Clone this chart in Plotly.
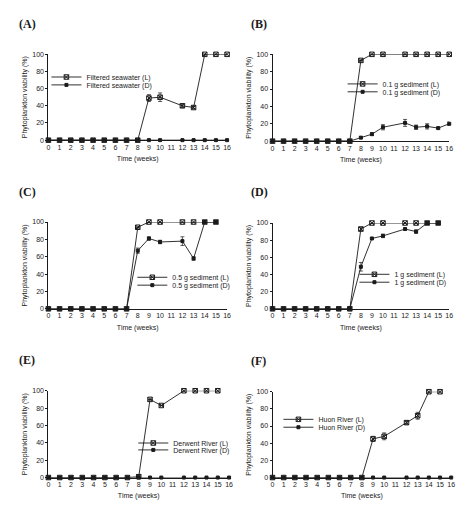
import plotly.graph_objects as go

W, H = 471, 520

# ---------------- data ----------------
weeks_16 = [0, 1, 2, 3, 4, 5, 6, 7, 8, 9, 10, 12, 13, 14, 15, 16]
weeks_15 = [0, 1, 2, 3, 4, 5, 6, 7, 8, 9, 10, 12, 13, 14, 15]

# (A) Filtered seawater
A_L_x = weeks_16
A_L = [0, 0, 0, 0, 0, 0, 0, 0, 0, 49, 50, 40, 38, 100, 100, 100]
A_L_err = [0, 0, 0, 0, 0, 0, 0, 0, 0, 4, 5, 2, 1.5, 0, 0, 0]
A_D_x = weeks_16
A_D = [0] * 16
A_D_err = [0] * 16

# (B) 0.1 g sediment
B_L_x = weeks_16
B_L = [0, 0, 0, 0, 0, 0, 0, 0, 93, 100, 100, 100, 100, 100, 100, 100]
B_L_err = [0] * 16
B_D_x = weeks_16
B_D = [0, 0, 0, 0, 0, 0, 0, 0, 4, 8, 16, 21, 16, 17, 15, 20]
B_D_err = [0, 0, 0, 0, 0, 0, 0, 0, 1, 1.5, 3, 4, 2.5, 3, 1, 2]

# (C) 0.5 g sediment
C_L_x = weeks_15
C_L = [0, 0, 0, 0, 0, 0, 0, 0, 94, 100, 100, 100, 100, 100, 100]
C_L_err = [0] * 15
C_D_x = weeks_15
C_D = [0, 0, 0, 0, 0, 0, 0, 0, 67, 81, 77, 78, 58, 100, 100]
C_D_err = [0, 0, 0, 0, 0, 0, 0, 0, 3, 2, 2, 5, 2, 0, 0]

# (D) 1 g sediment
D_L_x = weeks_15
D_L = [0, 0, 0, 0, 0, 0, 0, 0, 93, 100, 100, 100, 100, 100, 100]
D_L_err = [0, 0, 0, 0, 0, 0, 0, 0, 2, 0, 0, 0, 0, 0, 0]
D_D_x = weeks_15
D_D = [0, 0, 0, 0, 0, 0, 0, 0, 49, 82, 85, 93, 90, 100, 100]
D_D_err = [0, 0, 0, 0, 0, 0, 0, 0, 5, 1, 2, 1, 2, 0, 0]

# (E) Derwent River
E_L_x = weeks_15
E_L = [0, 0, 0, 0, 0, 0, 0, 0, 1, 90, 83, 100, 100, 100, 100]
E_L_err = [0, 0, 0, 0, 0, 0, 0, 0, 2, 0, 0, 0, 0, 0, 0]
E_D_x = weeks_16
E_D = [0] * 16
E_D_err = [0] * 16

# (F) Huon River
F_L_x = weeks_15
F_L = [0, 0, 0, 0, 0, 0, 0, 0, 0, 45, 48, 64, 72, 100, 100]
F_L_err = [0, 0, 0, 0, 0, 0, 0, 0, 0, 3, 4, 2, 4, 0, 0]
F_D_x = weeks_16
F_D = [0] * 16
F_D_err = [0] * 16

panel_labels = ["(A)", "(B)", "(C)", "(D)", "(E)", "(F)"]
series_names = [
    ("Filtered seawater (L)", "Filtered seawater (D)"),
    ("0.1 g sediment (L)", "0.1 g sediment (D)"),
    ("0.5 g sediment (L)", "0.5 g sediment (D)"),
    ("1 g sediment (L)", "1 g sediment (D)"),
    ("Derwent River (L)", "Derwent River (D)"),
    ("Huon River (L)", "Huon River (D)"),
]
panels_data = [
    (A_L_x, A_L, A_L_err, A_D_x, A_D, A_D_err),
    (B_L_x, B_L, B_L_err, B_D_x, B_D, B_D_err),
    (C_L_x, C_L, C_L_err, C_D_x, C_D, C_D_err),
    (D_L_x, D_L, D_L_err, D_D_x, D_D, D_D_err),
    (E_L_x, E_L, E_L_err, E_D_x, E_D, E_D_err),
    (F_L_x, F_L, F_L_err, F_D_x, F_D, F_D_err),
]
x_ticks = list(range(0, 17))
y_ticks = [0, 20, 40, 60, 80, 100]

# ---------------- layout geometry (pixels) ----------------
# plot area: (left, right, top, bottom)
areas = [
    (47, 228, 51, 138),
    (274, 453, 51, 139),
    (47, 228, 221, 309),
    (274, 453, 222, 309),
    (47, 230, 392, 480),
    (274, 455, 393, 480),
]
label_pos = [(15, 20), (250, 20), (15, 191), (250, 191), (15, 361), (250, 362)]
# legend text start x, row centres y
legend_pos = [(87, 74, 82), (387, 81, 89), (174, 277, 285),
              (399, 274, 282), (175, 445, 452), (322, 421, 429)]

INK = "#1a1a1a"
FONT = "Liberation Sans, Arial, sans-serif"


def px(x):
    return x / W


def py(y):
    return 1 - y / H


fig = go.Figure()
layout = dict(
    width=W, height=H, margin=dict(l=0, r=0, t=0, b=0),
    paper_bgcolor="white", plot_bgcolor="white",
    font=dict(family=FONT, color=INK, size=7),
    showlegend=True,
)
annotations = []
leg_idx = 1
for i, (area, data, names) in enumerate(zip(areas, panels_data, series_names)):
    l, r, t, b = area
    n = i + 1
    xa = "xaxis" if n == 1 else f"xaxis{n}"
    ya = "yaxis" if n == 1 else f"yaxis{n}"
    xref = "x" if n == 1 else f"x{n}"
    yref = "y" if n == 1 else f"y{n}"
    layout[xa] = dict(
        domain=[px(l), px(r)], anchor=yref, range=[0, 16],
        tickmode="array", tickvals=x_ticks, ticks="", showgrid=False,
        zeroline=False, showline=True, linecolor=INK, linewidth=1,
        tickfont=dict(size=7), title=dict(text="Time (weeks)", font=dict(size=7), standoff=6),
        fixedrange=True,
    )
    layout[ya] = dict(
        domain=[py(b), py(t)], anchor=xref, range=[0, 100],
        tickmode="array", tickvals=y_ticks, ticks="outside", ticklen=2,
        tickcolor=INK, showgrid=False, zeroline=False, showline=True,
        linecolor=INK, linewidth=1, tickfont=dict(size=7),
        title=dict(text="Phytoplankton viability (%)", font=dict(size=7), standoff=3),
        fixedrange=True,
    )
    Lx, Ly, Le, Dx, Dy, De = data
    tx, r1, r2 = legend_pos[i]
    for j, (xx, yy, ee, nm, sym, ms, row) in enumerate([
        (Lx, Ly, Le, names[0], "square-x-open", 4.5, r1),
        (Dx, Dy, De, names[1], "square", 3, r2),
    ]):
        lname = "legend" if leg_idx == 1 else f"legend{leg_idx}"
        # error bars (kept out of the legend)
        fig.add_trace(go.Scatter(
            x=xx, y=yy, mode="markers", showlegend=False, hoverinfo="skip",
            xaxis=xref, yaxis=yref, cliponaxis=False,
            marker=dict(size=1, opacity=0),
            error_y=dict(type="data", array=ee, visible=True, color=INK,
                         thickness=0.7, width=2),
        ))
        fig.add_trace(go.Scatter(
            x=xx, y=yy, name=nm, mode="lines+markers",
            xaxis=xref, yaxis=yref, cliponaxis=False,
            line=dict(color=INK, width=0.9),
            marker=dict(symbol=sym, size=ms, color=INK,
                        line=dict(color=INK, width=1)),
            legend=lname,
        ))
        layout[lname] = dict(
            x=px(tx - 42), y=py(row), xanchor="left", yanchor="middle",
            bgcolor="rgba(0,0,0,0)", borderwidth=0,
            font=dict(size=7, family=FONT, color=INK),
        )
        leg_idx += 1
    lx, ly = label_pos[i]
    annotations.append(dict(
        text=f"<b>{panel_labels[i]}</b>", x=px(lx), y=py(ly), xref="paper", yref="paper",
        xanchor="left", yanchor="middle", showarrow=False,
        font=dict(family="Liberation Serif, Times New Roman, serif", size=12, color=INK),
    ))

layout["annotations"] = annotations
fig.update_layout(**layout)
fig.write_html("out.html")
